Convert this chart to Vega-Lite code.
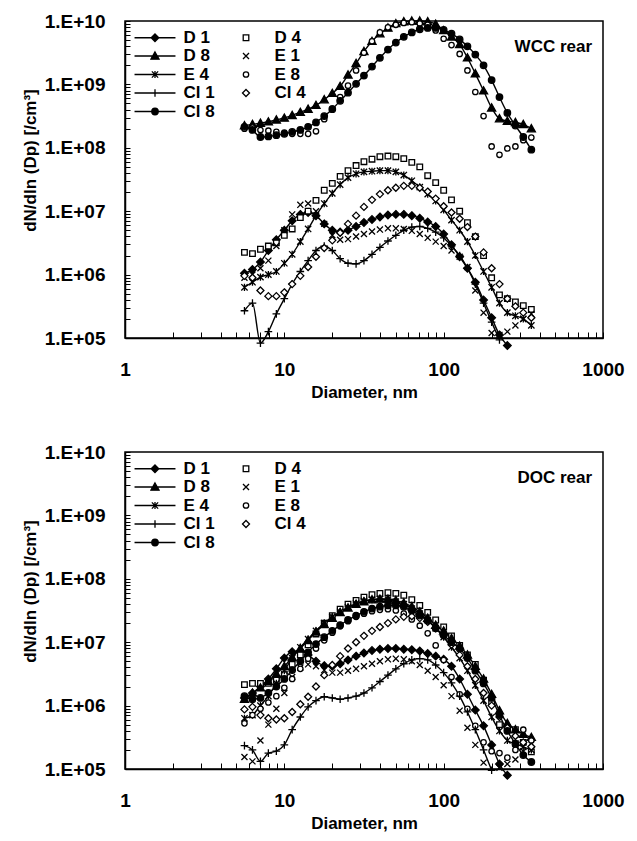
{
"$schema": "https://vega.github.io/schema/vega-lite/v6.json",
"padding": {"left": 20, "top": 11, "right": 5, "bottom": 5},
"background": "white",
"config": {
  "font": "Liberation Sans",
  "view": {"stroke": "black", "strokeWidth": 1.5},
  "concat": {"spacing": 41},
  "axis": {"grid": false, "domainColor": "black", "domainWidth": 1.5, "tickColor": "black", "tickWidth": 1, "labelColor": "black", "titleColor": "black", "labelFont": "Liberation Sans", "titleFont": "Liberation Sans", "labelFontWeight": "bold", "titleFontWeight": "bold", "labelFontSize": 19, "titleFontSize": 17, "labelOverlap": false, "labelBound": false, "labelFlush": false},
  "legend": {"orient": "none", "legendX": 21.5, "legendY": 8, "columns": 2, "title": null, "padding": 0, "labelFont": "Liberation Sans", "labelFontSize": 17, "labelFontWeight": "bold", "labelColor": "black", "labelOffset": 20, "columnPadding": 22, "rowPadding": 0.5, "symbolSize": 81, "symbolStrokeWidth": 1.3, "symbolOpacity": 1}
},
"resolve": {"legend": {"shape": "independent", "fill": "independent", "stroke": "independent"}, "scale": {"shape": "independent", "fill": "independent", "stroke": "independent"}},
"datasets": {
"wcc": [
{"s":"D 1","d":5.62,"n":1.05e6},{"s":"D 1","d":6.31,"n":1.20e6},{"s":"D 1","d":7.08,"n":1.58e6},{"s":"D 1","d":7.94,"n":2.40e6},{"s":"D 1","d":8.91,"n":3.55e6},{"s":"D 1","d":10,"n":5.01e6},{"s":"D 1","d":11.2,"n":7.08e6},{"s":"D 1","d":12.6,"n":8.91e6},{"s":"D 1","d":14.1,"n":9.55e6},{"s":"D 1","d":15.8,"n":8.51e6},{"s":"D 1","d":17.8,"n":6.31e6},{"s":"D 1","d":20,"n":5.01e6},{"s":"D 1","d":22.4,"n":4.68e6},{"s":"D 1","d":25.1,"n":5.01e6},{"s":"D 1","d":28.2,"n":5.75e6},{"s":"D 1","d":31.6,"n":6.61e6},{"s":"D 1","d":35.5,"n":7.41e6},{"s":"D 1","d":39.8,"n":8.13e6},{"s":"D 1","d":44.7,"n":8.71e6},{"s":"D 1","d":50.1,"n":8.91e6},{"s":"D 1","d":56.2,"n":8.91e6},{"s":"D 1","d":63.1,"n":8.51e6},{"s":"D 1","d":70.8,"n":7.76e6},{"s":"D 1","d":79.4,"n":6.76e6},{"s":"D 1","d":89.1,"n":5.75e6},{"s":"D 1","d":100,"n":4.37e6},{"s":"D 1","d":112,"n":2.95e6},{"s":"D 1","d":126,"n":1.91e6},{"s":"D 1","d":141,"n":1.26e6},{"s":"D 1","d":158,"n":7.59e5},{"s":"D 1","d":178,"n":3.98e5},{"s":"D 1","d":200,"n":2.09e5},{"s":"D 1","d":224,"n":1.12e5},{"s":"D 1","d":251,"n":7.59e4},
{"s":"D 4","d":5.62,"n":2.24e6},{"s":"D 4","d":6.31,"n":2.14e6},{"s":"D 4","d":7.08,"n":2.51e6},{"s":"D 4","d":7.94,"n":2.82e6},{"s":"D 4","d":8.91,"n":3.16e6},{"s":"D 4","d":10,"n":4.17e6},{"s":"D 4","d":11.2,"n":5.25e6},{"s":"D 4","d":12.6,"n":7.94e6},{"s":"D 4","d":14.1,"n":1.00e7},{"s":"D 4","d":15.8,"n":1.48e7},{"s":"D 4","d":17.8,"n":2.14e7},{"s":"D 4","d":20,"n":2.75e7},{"s":"D 4","d":22.4,"n":3.55e7},{"s":"D 4","d":25.1,"n":4.37e7},{"s":"D 4","d":28.2,"n":5.25e7},{"s":"D 4","d":31.6,"n":6.03e7},{"s":"D 4","d":35.5,"n":6.61e7},{"s":"D 4","d":39.8,"n":7.24e7},{"s":"D 4","d":44.7,"n":7.41e7},{"s":"D 4","d":50.1,"n":7.24e7},{"s":"D 4","d":56.2,"n":6.76e7},{"s":"D 4","d":63.1,"n":5.89e7},{"s":"D 4","d":70.8,"n":5.01e7},{"s":"D 4","d":79.4,"n":3.63e7},{"s":"D 4","d":89.1,"n":2.82e7},{"s":"D 4","d":100,"n":2.14e7},{"s":"D 4","d":112,"n":1.51e7},{"s":"D 4","d":126,"n":1.00e7},{"s":"D 4","d":141,"n":6.61e6},{"s":"D 4","d":158,"n":3.98e6},{"s":"D 4","d":178,"n":2.00e6},{"s":"D 4","d":200,"n":8.91e5},{"s":"D 4","d":224,"n":4.79e5},{"s":"D 4","d":251,"n":4.17e5},{"s":"D 4","d":282,"n":3.72e5},{"s":"D 4","d":316,"n":3.24e5},{"s":"D 4","d":355,"n":2.82e5},
{"s":"D 8","d":5.62,"n":2.24e8},{"s":"D 8","d":6.31,"n":2.34e8},{"s":"D 8","d":7.08,"n":2.45e8},{"s":"D 8","d":7.94,"n":2.57e8},{"s":"D 8","d":8.91,"n":2.75e8},{"s":"D 8","d":10,"n":2.95e8},{"s":"D 8","d":11.2,"n":3.24e8},{"s":"D 8","d":12.6,"n":3.63e8},{"s":"D 8","d":14.1,"n":4.07e8},{"s":"D 8","d":15.8,"n":4.68e8},{"s":"D 8","d":17.8,"n":5.75e8},{"s":"D 8","d":20,"n":7.24e8},{"s":"D 8","d":22.4,"n":9.33e8},{"s":"D 8","d":25.1,"n":1.41e9},{"s":"D 8","d":28.2,"n":2.14e9},{"s":"D 8","d":31.6,"n":3.31e9},{"s":"D 8","d":35.5,"n":4.79e9},{"s":"D 8","d":39.8,"n":6.31e9},{"s":"D 8","d":44.7,"n":7.76e9},{"s":"D 8","d":50.1,"n":9.12e9},{"s":"D 8","d":56.2,"n":9.77e9},{"s":"D 8","d":63.1,"n":1.00e10},{"s":"D 8","d":70.8,"n":1.00e10},{"s":"D 8","d":79.4,"n":9.77e9},{"s":"D 8","d":89.1,"n":8.91e9},{"s":"D 8","d":100,"n":7.08e9},{"s":"D 8","d":112,"n":5.62e9},{"s":"D 8","d":126,"n":4.27e9},{"s":"D 8","d":141,"n":2.63e9},{"s":"D 8","d":158,"n":1.48e9},{"s":"D 8","d":178,"n":7.94e8},{"s":"D 8","d":200,"n":4.27e8},{"s":"D 8","d":224,"n":2.88e8},{"s":"D 8","d":251,"n":2.63e8},{"s":"D 8","d":282,"n":2.51e8},{"s":"D 8","d":316,"n":2.34e8},{"s":"D 8","d":355,"n":2.00e8},
{"s":"E 1","d":5.62,"n":8.91e5},{"s":"E 1","d":6.31,"n":1.00e6},{"s":"E 1","d":7.08,"n":1.26e6},{"s":"E 1","d":7.94,"n":1.66e6},{"s":"E 1","d":8.91,"n":2.82e6},{"s":"E 1","d":10,"n":5.01e6},{"s":"E 1","d":11.2,"n":8.91e6},{"s":"E 1","d":12.6,"n":1.26e7},{"s":"E 1","d":14.1,"n":1.32e7},{"s":"E 1","d":15.8,"n":1.00e7},{"s":"E 1","d":17.8,"n":6.31e6},{"s":"E 1","d":20,"n":4.17e6},{"s":"E 1","d":22.4,"n":3.55e6},{"s":"E 1","d":25.1,"n":3.63e6},{"s":"E 1","d":28.2,"n":3.98e6},{"s":"E 1","d":31.6,"n":4.37e6},{"s":"E 1","d":35.5,"n":4.79e6},{"s":"E 1","d":39.8,"n":5.13e6},{"s":"E 1","d":44.7,"n":5.37e6},{"s":"E 1","d":50.1,"n":5.37e6},{"s":"E 1","d":56.2,"n":5.25e6},{"s":"E 1","d":63.1,"n":4.90e6},{"s":"E 1","d":70.8,"n":4.37e6},{"s":"E 1","d":79.4,"n":3.80e6},{"s":"E 1","d":89.1,"n":3.31e6},{"s":"E 1","d":100,"n":2.82e6},{"s":"E 1","d":112,"n":2.40e6},{"s":"E 1","d":126,"n":1.91e6},{"s":"E 1","d":141,"n":1.32e6},{"s":"E 1","d":158,"n":5.62e5},{"s":"E 1","d":178,"n":2.51e5},{"s":"E 1","d":200,"n":1.20e5},{"s":"E 1","d":224,"n":1.12e5},{"s":"E 1","d":251,"n":1.26e5},{"s":"E 1","d":282,"n":1.58e5},{"s":"E 1","d":316,"n":2.00e5},{"s":"E 1","d":355,"n":2.40e5},
{"s":"E 4","d":5.62,"n":6.31e5},{"s":"E 4","d":6.31,"n":7.59e5},{"s":"E 4","d":7.08,"n":9.12e5},{"s":"E 4","d":7.94,"n":1.00e6},{"s":"E 4","d":8.91,"n":1.12e6},{"s":"E 4","d":10,"n":1.51e6},{"s":"E 4","d":11.2,"n":2.09e6},{"s":"E 4","d":12.6,"n":3.31e6},{"s":"E 4","d":14.1,"n":5.25e6},{"s":"E 4","d":15.8,"n":8.51e6},{"s":"E 4","d":17.8,"n":1.32e7},{"s":"E 4","d":20,"n":1.91e7},{"s":"E 4","d":22.4,"n":2.63e7},{"s":"E 4","d":25.1,"n":3.39e7},{"s":"E 4","d":28.2,"n":3.89e7},{"s":"E 4","d":31.6,"n":4.17e7},{"s":"E 4","d":35.5,"n":4.27e7},{"s":"E 4","d":39.8,"n":4.37e7},{"s":"E 4","d":44.7,"n":4.37e7},{"s":"E 4","d":50.1,"n":4.17e7},{"s":"E 4","d":56.2,"n":3.72e7},{"s":"E 4","d":63.1,"n":3.02e7},{"s":"E 4","d":70.8,"n":2.40e7},{"s":"E 4","d":79.4,"n":1.86e7},{"s":"E 4","d":89.1,"n":1.45e7},{"s":"E 4","d":100,"n":1.05e7},{"s":"E 4","d":112,"n":7.24e6},{"s":"E 4","d":126,"n":5.01e6},{"s":"E 4","d":141,"n":3.31e6},{"s":"E 4","d":158,"n":2.00e6},{"s":"E 4","d":178,"n":1.12e6},{"s":"E 4","d":200,"n":6.31e5},{"s":"E 4","d":224,"n":3.55e5},{"s":"E 4","d":251,"n":2.51e5},{"s":"E 4","d":282,"n":2.24e5},{"s":"E 4","d":316,"n":2.00e5},{"s":"E 4","d":355,"n":1.58e5},
{"s":"E 8","d":5.62,"n":2.00e8},{"s":"E 8","d":6.31,"n":2.09e8},{"s":"E 8","d":7.08,"n":1.91e8},{"s":"E 8","d":7.94,"n":1.86e8},{"s":"E 8","d":8.91,"n":1.78e8},{"s":"E 8","d":10,"n":1.74e8},{"s":"E 8","d":11.2,"n":1.66e8},{"s":"E 8","d":12.6,"n":1.66e8},{"s":"E 8","d":14.1,"n":1.66e8},{"s":"E 8","d":15.8,"n":1.82e8},{"s":"E 8","d":17.8,"n":2.82e8},{"s":"E 8","d":20,"n":4.17e8},{"s":"E 8","d":22.4,"n":6.31e8},{"s":"E 8","d":25.1,"n":9.55e8},{"s":"E 8","d":28.2,"n":1.66e9},{"s":"E 8","d":31.6,"n":3.16e9},{"s":"E 8","d":35.5,"n":4.79e9},{"s":"E 8","d":39.8,"n":6.61e9},{"s":"E 8","d":44.7,"n":7.94e9},{"s":"E 8","d":50.1,"n":8.71e9},{"s":"E 8","d":56.2,"n":9.33e9},{"s":"E 8","d":63.1,"n":9.55e9},{"s":"E 8","d":70.8,"n":9.12e9},{"s":"E 8","d":79.4,"n":8.71e9},{"s":"E 8","d":89.1,"n":7.08e9},{"s":"E 8","d":100,"n":5.25e9},{"s":"E 8","d":112,"n":4.17e9},{"s":"E 8","d":126,"n":3.02e9},{"s":"E 8","d":141,"n":1.66e9},{"s":"E 8","d":158,"n":7.59e8},{"s":"E 8","d":178,"n":3.16e8},{"s":"E 8","d":200,"n":1.05e8},{"s":"E 8","d":224,"n":7.76e7},{"s":"E 8","d":251,"n":9.77e7},{"s":"E 8","d":282,"n":1.05e8},{"s":"E 8","d":316,"n":1.32e8},{"s":"E 8","d":355,"n":1.45e8},
{"s":"Cl 1","d":5.62,"n":2.69e5},{"s":"Cl 1","d":6.31,"n":3.55e5},{"s":"Cl 1","d":7.08,"n":8.32e4},{"s":"Cl 1","d":7.94,"n":1.26e5},{"s":"Cl 1","d":8.91,"n":2.40e5},{"s":"Cl 1","d":10,"n":4.17e5},{"s":"Cl 1","d":11.2,"n":7.08e5},{"s":"Cl 1","d":12.6,"n":1.12e6},{"s":"Cl 1","d":14.1,"n":1.66e6},{"s":"Cl 1","d":15.8,"n":2.40e6},{"s":"Cl 1","d":17.8,"n":2.82e6},{"s":"Cl 1","d":20,"n":2.40e6},{"s":"Cl 1","d":22.4,"n":1.78e6},{"s":"Cl 1","d":25.1,"n":1.51e6},{"s":"Cl 1","d":28.2,"n":1.48e6},{"s":"Cl 1","d":31.6,"n":1.66e6},{"s":"Cl 1","d":35.5,"n":2.09e6},{"s":"Cl 1","d":39.8,"n":2.69e6},{"s":"Cl 1","d":44.7,"n":3.39e6},{"s":"Cl 1","d":50.1,"n":4.17e6},{"s":"Cl 1","d":56.2,"n":5.01e6},{"s":"Cl 1","d":63.1,"n":5.62e6},{"s":"Cl 1","d":70.8,"n":5.75e6},{"s":"Cl 1","d":79.4,"n":5.37e6},{"s":"Cl 1","d":89.1,"n":4.68e6},{"s":"Cl 1","d":100,"n":3.80e6},{"s":"Cl 1","d":112,"n":2.82e6},{"s":"Cl 1","d":126,"n":2.00e6},{"s":"Cl 1","d":141,"n":1.26e6},{"s":"Cl 1","d":158,"n":7.08e5},{"s":"Cl 1","d":178,"n":3.55e5},{"s":"Cl 1","d":200,"n":1.78e5},{"s":"Cl 1","d":224,"n":9.33e4},
{"s":"Cl 4","d":5.62,"n":9.55e5},{"s":"Cl 4","d":6.31,"n":8.91e5},{"s":"Cl 4","d":7.08,"n":5.62e5},{"s":"Cl 4","d":7.94,"n":4.57e5},{"s":"Cl 4","d":8.91,"n":4.57e5},{"s":"Cl 4","d":10,"n":5.25e5},{"s":"Cl 4","d":11.2,"n":7.08e5},{"s":"Cl 4","d":12.6,"n":9.55e5},{"s":"Cl 4","d":14.1,"n":1.32e6},{"s":"Cl 4","d":15.8,"n":1.91e6},{"s":"Cl 4","d":17.8,"n":2.63e6},{"s":"Cl 4","d":20,"n":3.47e6},{"s":"Cl 4","d":22.4,"n":4.57e6},{"s":"Cl 4","d":25.1,"n":6.31e6},{"s":"Cl 4","d":28.2,"n":8.51e6},{"s":"Cl 4","d":31.6,"n":1.17e7},{"s":"Cl 4","d":35.5,"n":1.51e7},{"s":"Cl 4","d":39.8,"n":1.86e7},{"s":"Cl 4","d":44.7,"n":2.14e7},{"s":"Cl 4","d":50.1,"n":2.34e7},{"s":"Cl 4","d":56.2,"n":2.51e7},{"s":"Cl 4","d":63.1,"n":2.51e7},{"s":"Cl 4","d":70.8,"n":2.34e7},{"s":"Cl 4","d":79.4,"n":2.04e7},{"s":"Cl 4","d":89.1,"n":1.58e7},{"s":"Cl 4","d":100,"n":1.20e7},{"s":"Cl 4","d":112,"n":9.55e6},{"s":"Cl 4","d":126,"n":7.59e6},{"s":"Cl 4","d":141,"n":5.62e6},{"s":"Cl 4","d":158,"n":3.98e6},{"s":"Cl 4","d":178,"n":2.24e6},{"s":"Cl 4","d":200,"n":1.26e6},{"s":"Cl 4","d":224,"n":7.08e5},{"s":"Cl 4","d":251,"n":4.17e5},{"s":"Cl 4","d":282,"n":3.16e5},{"s":"Cl 4","d":316,"n":2.51e5},{"s":"Cl 4","d":355,"n":2.09e5},
{"s":"Cl 8","d":5.62,"n":2.14e8},{"s":"Cl 8","d":6.31,"n":1.91e8},{"s":"Cl 8","d":7.08,"n":1.48e8},{"s":"Cl 8","d":7.94,"n":1.51e8},{"s":"Cl 8","d":8.91,"n":1.58e8},{"s":"Cl 8","d":10,"n":1.66e8},{"s":"Cl 8","d":11.2,"n":1.78e8},{"s":"Cl 8","d":12.6,"n":1.91e8},{"s":"Cl 8","d":14.1,"n":2.14e8},{"s":"Cl 8","d":15.8,"n":2.51e8},{"s":"Cl 8","d":17.8,"n":3.16e8},{"s":"Cl 8","d":20,"n":4.07e8},{"s":"Cl 8","d":22.4,"n":5.50e8},{"s":"Cl 8","d":25.1,"n":7.41e8},{"s":"Cl 8","d":28.2,"n":1.02e9},{"s":"Cl 8","d":31.6,"n":1.38e9},{"s":"Cl 8","d":35.5,"n":1.91e9},{"s":"Cl 8","d":39.8,"n":2.63e9},{"s":"Cl 8","d":44.7,"n":3.55e9},{"s":"Cl 8","d":50.1,"n":4.57e9},{"s":"Cl 8","d":56.2,"n":5.62e9},{"s":"Cl 8","d":63.1,"n":6.61e9},{"s":"Cl 8","d":70.8,"n":7.41e9},{"s":"Cl 8","d":79.4,"n":7.76e9},{"s":"Cl 8","d":89.1,"n":7.76e9},{"s":"Cl 8","d":100,"n":7.24e9},{"s":"Cl 8","d":112,"n":6.31e9},{"s":"Cl 8","d":126,"n":5.13e9},{"s":"Cl 8","d":141,"n":3.98e9},{"s":"Cl 8","d":158,"n":2.95e9},{"s":"Cl 8","d":178,"n":2.00e9},{"s":"Cl 8","d":200,"n":1.17e9},{"s":"Cl 8","d":224,"n":6.31e8},{"s":"Cl 8","d":251,"n":3.55e8},{"s":"Cl 8","d":282,"n":2.24e8},{"s":"Cl 8","d":316,"n":1.48e8},{"s":"Cl 8","d":355,"n":9.33e7}
],
"doc": [
{"s":"D 1","d":5.62,"n":1.32e6},{"s":"D 1","d":6.31,"n":1.58e6},{"s":"D 1","d":7.08,"n":2.00e6},{"s":"D 1","d":7.94,"n":2.63e6},{"s":"D 1","d":8.91,"n":3.80e6},{"s":"D 1","d":10,"n":5.62e6},{"s":"D 1","d":11.2,"n":7.08e6},{"s":"D 1","d":12.6,"n":7.24e6},{"s":"D 1","d":14.1,"n":6.31e6},{"s":"D 1","d":15.8,"n":5.01e6},{"s":"D 1","d":17.8,"n":4.27e6},{"s":"D 1","d":20,"n":4.17e6},{"s":"D 1","d":22.4,"n":4.57e6},{"s":"D 1","d":25.1,"n":5.25e6},{"s":"D 1","d":28.2,"n":6.03e6},{"s":"D 1","d":31.6,"n":6.76e6},{"s":"D 1","d":35.5,"n":7.41e6},{"s":"D 1","d":39.8,"n":7.76e6},{"s":"D 1","d":44.7,"n":7.94e6},{"s":"D 1","d":50.1,"n":7.94e6},{"s":"D 1","d":56.2,"n":7.76e6},{"s":"D 1","d":63.1,"n":7.59e6},{"s":"D 1","d":70.8,"n":7.24e6},{"s":"D 1","d":79.4,"n":6.61e6},{"s":"D 1","d":89.1,"n":6.03e6},{"s":"D 1","d":100,"n":5.37e6},{"s":"D 1","d":112,"n":4.17e6},{"s":"D 1","d":126,"n":2.63e6},{"s":"D 1","d":141,"n":1.51e6},{"s":"D 1","d":158,"n":8.51e5},{"s":"D 1","d":178,"n":4.79e5},{"s":"D 1","d":200,"n":2.40e5},{"s":"D 1","d":224,"n":1.20e5},{"s":"D 1","d":251,"n":7.94e4},
{"s":"D 4","d":5.62,"n":2.14e6},{"s":"D 4","d":6.31,"n":2.24e6},{"s":"D 4","d":7.08,"n":2.24e6},{"s":"D 4","d":7.94,"n":2.24e6},{"s":"D 4","d":8.91,"n":2.51e6},{"s":"D 4","d":10,"n":3.16e6},{"s":"D 4","d":11.2,"n":4.47e6},{"s":"D 4","d":12.6,"n":6.31e6},{"s":"D 4","d":14.1,"n":9.12e6},{"s":"D 4","d":15.8,"n":1.35e7},{"s":"D 4","d":17.8,"n":2.00e7},{"s":"D 4","d":20,"n":2.63e7},{"s":"D 4","d":22.4,"n":3.31e7},{"s":"D 4","d":25.1,"n":3.98e7},{"s":"D 4","d":28.2,"n":4.57e7},{"s":"D 4","d":31.6,"n":5.13e7},{"s":"D 4","d":35.5,"n":5.62e7},{"s":"D 4","d":39.8,"n":5.89e7},{"s":"D 4","d":44.7,"n":6.03e7},{"s":"D 4","d":50.1,"n":5.89e7},{"s":"D 4","d":56.2,"n":5.50e7},{"s":"D 4","d":63.1,"n":4.68e7},{"s":"D 4","d":70.8,"n":3.80e7},{"s":"D 4","d":79.4,"n":2.95e7},{"s":"D 4","d":89.1,"n":2.24e7},{"s":"D 4","d":100,"n":1.74e7},{"s":"D 4","d":112,"n":1.26e7},{"s":"D 4","d":126,"n":8.91e6},{"s":"D 4","d":141,"n":6.31e6},{"s":"D 4","d":158,"n":4.47e6},{"s":"D 4","d":178,"n":2.51e6},{"s":"D 4","d":200,"n":1.12e6},{"s":"D 4","d":224,"n":5.01e5},{"s":"D 4","d":251,"n":4.47e5},{"s":"D 4","d":282,"n":4.17e5},{"s":"D 4","d":316,"n":2.63e5},{"s":"D 4","d":355,"n":1.86e5},
{"s":"D 8","d":5.62,"n":1.26e6},{"s":"D 8","d":6.31,"n":1.58e6},{"s":"D 8","d":7.08,"n":1.91e6},{"s":"D 8","d":7.94,"n":2.40e6},{"s":"D 8","d":8.91,"n":3.16e6},{"s":"D 8","d":10,"n":4.17e6},{"s":"D 8","d":11.2,"n":5.75e6},{"s":"D 8","d":12.6,"n":7.94e6},{"s":"D 8","d":14.1,"n":1.07e7},{"s":"D 8","d":15.8,"n":1.45e7},{"s":"D 8","d":17.8,"n":1.91e7},{"s":"D 8","d":20,"n":2.40e7},{"s":"D 8","d":22.4,"n":2.95e7},{"s":"D 8","d":25.1,"n":3.47e7},{"s":"D 8","d":28.2,"n":3.98e7},{"s":"D 8","d":31.6,"n":4.37e7},{"s":"D 8","d":35.5,"n":4.68e7},{"s":"D 8","d":39.8,"n":4.79e7},{"s":"D 8","d":44.7,"n":4.79e7},{"s":"D 8","d":50.1,"n":4.57e7},{"s":"D 8","d":56.2,"n":4.17e7},{"s":"D 8","d":63.1,"n":3.63e7},{"s":"D 8","d":70.8,"n":3.02e7},{"s":"D 8","d":79.4,"n":2.40e7},{"s":"D 8","d":89.1,"n":1.86e7},{"s":"D 8","d":100,"n":1.51e7},{"s":"D 8","d":112,"n":1.15e7},{"s":"D 8","d":126,"n":8.71e6},{"s":"D 8","d":141,"n":6.31e6},{"s":"D 8","d":158,"n":4.17e6},{"s":"D 8","d":178,"n":2.63e6},{"s":"D 8","d":200,"n":1.51e6},{"s":"D 8","d":224,"n":8.32e5},{"s":"D 8","d":251,"n":5.25e5},{"s":"D 8","d":282,"n":4.17e5},{"s":"D 8","d":316,"n":3.55e5},{"s":"D 8","d":355,"n":3.16e5},
{"s":"E 1","d":5.62,"n":1.55e5},{"s":"E 1","d":6.31,"n":1.32e5},{"s":"E 1","d":7.08,"n":2.82e5},{"s":"E 1","d":7.94,"n":5.01e5},{"s":"E 1","d":8.91,"n":8.91e5},{"s":"E 1","d":10,"n":1.58e6},{"s":"E 1","d":11.2,"n":2.82e6},{"s":"E 1","d":12.6,"n":3.98e6},{"s":"E 1","d":14.1,"n":4.47e6},{"s":"E 1","d":15.8,"n":4.17e6},{"s":"E 1","d":17.8,"n":3.63e6},{"s":"E 1","d":20,"n":3.31e6},{"s":"E 1","d":22.4,"n":3.31e6},{"s":"E 1","d":25.1,"n":3.55e6},{"s":"E 1","d":28.2,"n":3.80e6},{"s":"E 1","d":31.6,"n":4.17e6},{"s":"E 1","d":35.5,"n":4.57e6},{"s":"E 1","d":39.8,"n":5.01e6},{"s":"E 1","d":44.7,"n":5.37e6},{"s":"E 1","d":50.1,"n":5.50e6},{"s":"E 1","d":56.2,"n":5.37e6},{"s":"E 1","d":63.1,"n":5.01e6},{"s":"E 1","d":70.8,"n":4.37e6},{"s":"E 1","d":79.4,"n":3.55e6},{"s":"E 1","d":89.1,"n":2.82e6},{"s":"E 1","d":100,"n":2.09e6},{"s":"E 1","d":112,"n":1.41e6},{"s":"E 1","d":126,"n":8.32e5},{"s":"E 1","d":141,"n":4.47e5},{"s":"E 1","d":158,"n":2.40e5},{"s":"E 1","d":178,"n":1.26e5},{"s":"E 1","d":224,"n":1.05e5},{"s":"E 1","d":251,"n":1.20e5},{"s":"E 1","d":282,"n":1.41e5},{"s":"E 1","d":316,"n":1.91e5},{"s":"E 1","d":355,"n":2.51e5},
{"s":"E 4","d":5.62,"n":6.31e5},{"s":"E 4","d":6.31,"n":7.08e5},{"s":"E 4","d":7.08,"n":1.00e6},{"s":"E 4","d":7.94,"n":1.41e6},{"s":"E 4","d":8.91,"n":2.24e6},{"s":"E 4","d":10,"n":3.55e6},{"s":"E 4","d":11.2,"n":5.62e6},{"s":"E 4","d":12.6,"n":8.32e6},{"s":"E 4","d":14.1,"n":1.12e7},{"s":"E 4","d":15.8,"n":1.51e7},{"s":"E 4","d":17.8,"n":2.00e7},{"s":"E 4","d":20,"n":2.51e7},{"s":"E 4","d":22.4,"n":3.02e7},{"s":"E 4","d":25.1,"n":3.55e7},{"s":"E 4","d":28.2,"n":4.07e7},{"s":"E 4","d":31.6,"n":4.47e7},{"s":"E 4","d":35.5,"n":4.68e7},{"s":"E 4","d":39.8,"n":4.79e7},{"s":"E 4","d":44.7,"n":4.68e7},{"s":"E 4","d":50.1,"n":4.37e7},{"s":"E 4","d":56.2,"n":3.98e7},{"s":"E 4","d":63.1,"n":3.39e7},{"s":"E 4","d":70.8,"n":2.82e7},{"s":"E 4","d":79.4,"n":2.24e7},{"s":"E 4","d":89.1,"n":1.66e7},{"s":"E 4","d":100,"n":1.20e7},{"s":"E 4","d":112,"n":8.32e6},{"s":"E 4","d":126,"n":5.62e6},{"s":"E 4","d":141,"n":3.55e6},{"s":"E 4","d":158,"n":2.09e6},{"s":"E 4","d":178,"n":1.20e6},{"s":"E 4","d":200,"n":6.61e5},{"s":"E 4","d":224,"n":3.98e5},{"s":"E 4","d":251,"n":2.82e5},{"s":"E 4","d":282,"n":2.51e5},{"s":"E 4","d":316,"n":2.24e5},{"s":"E 4","d":355,"n":2.00e5},
{"s":"E 8","d":5.62,"n":5.25e5},{"s":"E 8","d":6.31,"n":7.08e5},{"s":"E 8","d":7.08,"n":8.91e5},{"s":"E 8","d":7.94,"n":1.12e6},{"s":"E 8","d":8.91,"n":1.41e6},{"s":"E 8","d":10,"n":1.91e6},{"s":"E 8","d":11.2,"n":2.63e6},{"s":"E 8","d":12.6,"n":3.80e6},{"s":"E 8","d":14.1,"n":5.50e6},{"s":"E 8","d":15.8,"n":7.94e6},{"s":"E 8","d":17.8,"n":1.07e7},{"s":"E 8","d":20,"n":1.41e7},{"s":"E 8","d":22.4,"n":1.78e7},{"s":"E 8","d":25.1,"n":2.14e7},{"s":"E 8","d":28.2,"n":2.51e7},{"s":"E 8","d":31.6,"n":2.82e7},{"s":"E 8","d":35.5,"n":3.09e7},{"s":"E 8","d":39.8,"n":3.24e7},{"s":"E 8","d":44.7,"n":3.31e7},{"s":"E 8","d":50.1,"n":3.16e7},{"s":"E 8","d":56.2,"n":2.82e7},{"s":"E 8","d":63.1,"n":2.29e7},{"s":"E 8","d":70.8,"n":1.82e7},{"s":"E 8","d":79.4,"n":1.38e7},{"s":"E 8","d":89.1,"n":8.91e6},{"s":"E 8","d":100,"n":5.25e6},{"s":"E 8","d":112,"n":2.82e6},{"s":"E 8","d":126,"n":1.51e6},{"s":"E 8","d":141,"n":8.91e5},{"s":"E 8","d":158,"n":4.79e5},{"s":"E 8","d":178,"n":2.63e5},{"s":"E 8","d":200,"n":1.91e5},{"s":"E 8","d":224,"n":1.78e5},{"s":"E 8","d":251,"n":1.51e5},{"s":"E 8","d":282,"n":2.00e5},{"s":"E 8","d":316,"n":4.17e5},{"s":"E 8","d":355,"n":2.82e5},
{"s":"Cl 1","d":5.62,"n":2.34e5},{"s":"Cl 1","d":6.31,"n":2.00e5},{"s":"Cl 1","d":7.08,"n":1.32e5},{"s":"Cl 1","d":7.94,"n":1.78e5},{"s":"Cl 1","d":8.91,"n":1.91e5},{"s":"Cl 1","d":10,"n":2.40e5},{"s":"Cl 1","d":11.2,"n":4.17e5},{"s":"Cl 1","d":12.6,"n":6.61e5},{"s":"Cl 1","d":14.1,"n":9.55e5},{"s":"Cl 1","d":15.8,"n":1.20e6},{"s":"Cl 1","d":17.8,"n":1.38e6},{"s":"Cl 1","d":20,"n":1.32e6},{"s":"Cl 1","d":22.4,"n":1.26e6},{"s":"Cl 1","d":25.1,"n":1.32e6},{"s":"Cl 1","d":28.2,"n":1.41e6},{"s":"Cl 1","d":31.6,"n":1.58e6},{"s":"Cl 1","d":35.5,"n":1.91e6},{"s":"Cl 1","d":39.8,"n":2.40e6},{"s":"Cl 1","d":44.7,"n":3.02e6},{"s":"Cl 1","d":50.1,"n":3.80e6},{"s":"Cl 1","d":56.2,"n":4.57e6},{"s":"Cl 1","d":63.1,"n":5.25e6},{"s":"Cl 1","d":70.8,"n":5.50e6},{"s":"Cl 1","d":79.4,"n":5.25e6},{"s":"Cl 1","d":89.1,"n":4.37e6},{"s":"Cl 1","d":100,"n":3.31e6},{"s":"Cl 1","d":112,"n":2.29e6},{"s":"Cl 1","d":126,"n":1.41e6},{"s":"Cl 1","d":141,"n":7.94e5},{"s":"Cl 1","d":158,"n":4.17e5},{"s":"Cl 1","d":178,"n":2.00e5},{"s":"Cl 1","d":200,"n":9.55e4},
{"s":"Cl 4","d":5.62,"n":8.71e5},{"s":"Cl 4","d":6.31,"n":9.55e5},{"s":"Cl 4","d":7.08,"n":7.08e5},{"s":"Cl 4","d":7.94,"n":6.31e5},{"s":"Cl 4","d":8.91,"n":6.03e5},{"s":"Cl 4","d":10,"n":6.31e5},{"s":"Cl 4","d":11.2,"n":7.94e5},{"s":"Cl 4","d":12.6,"n":1.05e6},{"s":"Cl 4","d":14.1,"n":1.38e6},{"s":"Cl 4","d":15.8,"n":2.00e6},{"s":"Cl 4","d":17.8,"n":3.02e6},{"s":"Cl 4","d":20,"n":4.37e6},{"s":"Cl 4","d":22.4,"n":6.03e6},{"s":"Cl 4","d":25.1,"n":7.94e6},{"s":"Cl 4","d":28.2,"n":1.00e7},{"s":"Cl 4","d":31.6,"n":1.26e7},{"s":"Cl 4","d":35.5,"n":1.51e7},{"s":"Cl 4","d":39.8,"n":1.74e7},{"s":"Cl 4","d":44.7,"n":2.00e7},{"s":"Cl 4","d":50.1,"n":2.29e7},{"s":"Cl 4","d":56.2,"n":2.51e7},{"s":"Cl 4","d":63.1,"n":2.57e7},{"s":"Cl 4","d":70.8,"n":2.40e7},{"s":"Cl 4","d":79.4,"n":2.09e7},{"s":"Cl 4","d":89.1,"n":1.66e7},{"s":"Cl 4","d":100,"n":1.26e7},{"s":"Cl 4","d":112,"n":9.12e6},{"s":"Cl 4","d":126,"n":6.31e6},{"s":"Cl 4","d":141,"n":4.17e6},{"s":"Cl 4","d":158,"n":2.63e6},{"s":"Cl 4","d":178,"n":1.58e6},{"s":"Cl 4","d":200,"n":1.00e6},{"s":"Cl 4","d":224,"n":6.61e5},{"s":"Cl 4","d":251,"n":4.47e5},{"s":"Cl 4","d":282,"n":3.31e5},{"s":"Cl 4","d":316,"n":2.63e5},{"s":"Cl 4","d":355,"n":2.24e5},
{"s":"Cl 8","d":5.62,"n":1.41e6},{"s":"Cl 8","d":6.31,"n":1.26e6},{"s":"Cl 8","d":7.08,"n":1.32e6},{"s":"Cl 8","d":7.94,"n":1.58e6},{"s":"Cl 8","d":8.91,"n":2.00e6},{"s":"Cl 8","d":10,"n":2.63e6},{"s":"Cl 8","d":11.2,"n":3.63e6},{"s":"Cl 8","d":12.6,"n":5.01e6},{"s":"Cl 8","d":14.1,"n":6.92e6},{"s":"Cl 8","d":15.8,"n":9.33e6},{"s":"Cl 8","d":17.8,"n":1.20e7},{"s":"Cl 8","d":20,"n":1.51e7},{"s":"Cl 8","d":22.4,"n":1.86e7},{"s":"Cl 8","d":25.1,"n":2.24e7},{"s":"Cl 8","d":28.2,"n":2.63e7},{"s":"Cl 8","d":31.6,"n":3.02e7},{"s":"Cl 8","d":35.5,"n":3.39e7},{"s":"Cl 8","d":39.8,"n":3.63e7},{"s":"Cl 8","d":44.7,"n":3.80e7},{"s":"Cl 8","d":50.1,"n":3.80e7},{"s":"Cl 8","d":56.2,"n":3.63e7},{"s":"Cl 8","d":63.1,"n":3.16e7},{"s":"Cl 8","d":70.8,"n":2.63e7},{"s":"Cl 8","d":79.4,"n":2.19e7},{"s":"Cl 8","d":89.1,"n":1.66e7},{"s":"Cl 8","d":100,"n":1.29e7},{"s":"Cl 8","d":112,"n":1.00e7},{"s":"Cl 8","d":126,"n":7.94e6},{"s":"Cl 8","d":141,"n":5.62e6},{"s":"Cl 8","d":158,"n":3.55e6},{"s":"Cl 8","d":178,"n":2.24e6},{"s":"Cl 8","d":200,"n":1.32e6},{"s":"Cl 8","d":224,"n":7.08e5},{"s":"Cl 8","d":251,"n":3.98e5},{"s":"Cl 8","d":282,"n":2.51e5},{"s":"Cl 8","d":316,"n":1.66e5},{"s":"Cl 8","d":355,"n":1.29e5}
]
},
"vconcat": [
{
  "width": 478, "height": 317,
  "data": {"name": "wcc"},
  "resolve": {"scale": {"shape": "independent", "fill": "independent", "stroke": "independent"}, "legend": {"shape": "independent", "fill": "independent", "stroke": "independent"}},
  "layer": [
    {
      "transform": [{"filter": {"field": "s", "oneOf": ["D 1", "D 8", "E 4", "Cl 1", "Cl 8"]}}],
      "mark": {"type": "line", "interpolate": "monotone", "color": "black", "strokeWidth": 1.4},
      "encoding": {
        "x": {"field": "d", "type": "quantitative", "scale": {"type": "log", "domain": [1, 1000], "nice": false}, "axis": {"title": "Diameter, nm", "values": [1,2,3,4,5,6,7,8,9,10,20,30,40,50,60,70,80,90,100,200,300,400,500,600,700,800,900,1000], "format": "d", "labelExpr": "datum.value == 1 || datum.value == 10 || datum.value == 100 || datum.value == 1000 ? datum.label : ''", "tickSize": -6, "labelPadding": 28, "titlePadding": 5}},
        "y": {"field": "n", "type": "quantitative", "scale": {"type": "log", "domain": [100000, 10000000000], "nice": false}, "axis": {"title": "dN/dln (Dp) [/cm³]", "titleY": 139, "values": [1e5,2e5,3e5,4e5,5e5,6e5,7e5,8e5,9e5,1e6,2e6,3e6,4e6,5e6,6e6,7e6,8e6,9e6,1e7,2e7,3e7,4e7,5e7,6e7,7e7,8e7,9e7,1e8,2e8,3e8,4e8,5e8,6e8,7e8,8e8,9e8,1e9,2e9,3e9,4e9,5e9,6e9,7e9,8e9,9e9,1e10], "labelExpr": "datum.value == 100000 ? '1.E+05' : datum.value == 1000000 ? '1.E+06' : datum.value == 10000000 ? '1.E+07' : datum.value == 100000000 ? '1.E+08' : datum.value == 1000000000 ? '1.E+09' : datum.value == 10000000000 ? '1.E+10' : ''", "tickSize": -5, "labelPadding": 25, "titlePadding": 5}},
        "detail": {"field": "s"}
      }
    },
    {
      "mark": {"type": "point", "filled": true, "stroke": "black", "strokeWidth": 1.3, "size": 81, "opacity": 1},
      "encoding": {
        "x": {"field": "d", "type": "quantitative"},
        "y": {"field": "n", "type": "quantitative"},
        "fill": {"field": "s", "type": "nominal", "scale": {"domain": ["D 1","D 4","D 8","E 1","E 4","E 8","Cl 1","Cl 4","Cl 8"], "range": ["black","white","black","white","white","white","white","white","black"]}, "legend": null},
        "shape": {"field": "s", "type": "nominal", "legend": null,
          "scale": {"domain": ["D 1","D 4","D 8","E 1","E 4","E 8","Cl 1","Cl 4","Cl 8"], "range": ["M0,-0.85L0.85,0L0,0.85L-0.85,0Z","M-0.62,-0.62H0.62V0.62H-0.62Z","M0,-0.9L0.9,0.7H-0.9Z","M-0.67,-0.67L0.67,0.67M-0.67,0.67L0.67,-0.67","M0,-0.8V0.8M-0.7,-0.7L0.7,0.7M-0.7,0.7L0.7,-0.7","M0.6,0A0.6,0.6,0,1,1,-0.6,0A0.6,0.6,0,1,1,0.6,0Z","M-0.85,0H0.85M0,-0.85V0.85","M0,-0.78L0.78,0L0,0.78L-0.78,0Z","M0.72,0A0.72,0.72,0,1,1,-0.72,0A0.72,0.72,0,1,1,0.72,0Z"]}
        }
      }
    },
    {
      "transform": [{"filter": "datum.d < 0"}],
      "mark": {"type": "point", "filled": true, "strokeWidth": 1.3, "size": 81, "opacity": 1},
      "encoding": {
        "shape": {"field": "s", "type": "nominal",
          "scale": {"domain": ["D 1","D 8","E 4","Cl 1","Cl 8","D 4","E 1","E 8","Cl 4"], "range": ["M-4.55,0H4.55M0,-0.85L0.85,0L0,0.85L-0.85,0Z","M-4.55,0H4.55M0,-0.9L0.9,0.7H-0.9Z","M-4.55,0H4.55M0,-0.8V0.8M-0.7,-0.7L0.7,0.7M-0.7,0.7L0.7,-0.7","M-4.55,0H4.55M0,-0.85V0.85","M-4.55,0H4.55M0.72,0A0.72,0.72,0,1,1,-0.72,0A0.72,0.72,0,1,1,0.72,0Z","M-0.62,-0.62H0.62V0.62H-0.62Z","M-0.67,-0.67L0.67,0.67M-0.67,0.67L0.67,-0.67","M0.6,0A0.6,0.6,0,1,1,-0.6,0A0.6,0.6,0,1,1,0.6,0Z","M0,-0.78L0.78,0L0,0.78L-0.78,0Z"]}},
        "fill": {"field": "s", "type": "nominal",
          "scale": {"domain": ["D 1","D 8","E 4","Cl 1","Cl 8","D 4","E 1","E 8","Cl 4"], "range": ["black","black","white","white","black","white","white","white","white"]}},
        "stroke": {"field": "s", "type": "nominal",
          "scale": {"domain": ["D 1","D 8","E 4","Cl 1","Cl 8","D 4","E 1","E 8","Cl 4"], "range": ["black","black","black","black","black","black","black","black","black"]}}
      }
    },
    {
      "data": {"values": [{"t": "WCC rear"}]},
      "mark": {"type": "text", "align": "right", "baseline": "middle", "font": "Liberation Sans", "fontSize": 17, "fontWeight": "bold", "color": "black"},
      "encoding": {"x": {"datum": 854}, "y": {"datum": 3840000000}, "text": {"field": "t"}}
    }
  ]
},
{
  "width": 478, "height": 317,
  "data": {"name": "doc"},
  "resolve": {"scale": {"shape": "independent", "fill": "independent", "stroke": "independent"}, "legend": {"shape": "independent", "fill": "independent", "stroke": "independent"}},
  "layer": [
    {
      "transform": [{"filter": {"field": "s", "oneOf": ["D 1", "D 8", "E 4", "Cl 1", "Cl 8"]}}],
      "mark": {"type": "line", "interpolate": "monotone", "color": "black", "strokeWidth": 1.4},
      "encoding": {
        "x": {"field": "d", "type": "quantitative", "scale": {"type": "log", "domain": [1, 1000], "nice": false}, "axis": {"title": "Diameter, nm", "values": [1,2,3,4,5,6,7,8,9,10,20,30,40,50,60,70,80,90,100,200,300,400,500,600,700,800,900,1000], "format": "d", "labelExpr": "datum.value == 1 || datum.value == 10 || datum.value == 100 || datum.value == 1000 ? datum.label : ''", "tickSize": -6, "labelPadding": 28, "titlePadding": 5}},
        "y": {"field": "n", "type": "quantitative", "scale": {"type": "log", "domain": [100000, 10000000000], "nice": false}, "axis": {"title": "dN/dln (Dp) [/cm³]", "titleY": 139, "values": [1e5,2e5,3e5,4e5,5e5,6e5,7e5,8e5,9e5,1e6,2e6,3e6,4e6,5e6,6e6,7e6,8e6,9e6,1e7,2e7,3e7,4e7,5e7,6e7,7e7,8e7,9e7,1e8,2e8,3e8,4e8,5e8,6e8,7e8,8e8,9e8,1e9,2e9,3e9,4e9,5e9,6e9,7e9,8e9,9e9,1e10], "labelExpr": "datum.value == 100000 ? '1.E+05' : datum.value == 1000000 ? '1.E+06' : datum.value == 10000000 ? '1.E+07' : datum.value == 100000000 ? '1.E+08' : datum.value == 1000000000 ? '1.E+09' : datum.value == 10000000000 ? '1.E+10' : ''", "tickSize": -5, "labelPadding": 25, "titlePadding": 5}},
        "detail": {"field": "s"}
      }
    },
    {
      "mark": {"type": "point", "filled": true, "stroke": "black", "strokeWidth": 1.3, "size": 81, "opacity": 1},
      "encoding": {
        "x": {"field": "d", "type": "quantitative"},
        "y": {"field": "n", "type": "quantitative"},
        "fill": {"field": "s", "type": "nominal", "scale": {"domain": ["D 1","D 4","D 8","E 1","E 4","E 8","Cl 1","Cl 4","Cl 8"], "range": ["black","white","black","white","white","white","white","white","black"]}, "legend": null},
        "shape": {"field": "s", "type": "nominal", "legend": null,
          "scale": {"domain": ["D 1","D 4","D 8","E 1","E 4","E 8","Cl 1","Cl 4","Cl 8"], "range": ["M0,-0.85L0.85,0L0,0.85L-0.85,0Z","M-0.62,-0.62H0.62V0.62H-0.62Z","M0,-0.9L0.9,0.7H-0.9Z","M-0.67,-0.67L0.67,0.67M-0.67,0.67L0.67,-0.67","M0,-0.8V0.8M-0.7,-0.7L0.7,0.7M-0.7,0.7L0.7,-0.7","M0.6,0A0.6,0.6,0,1,1,-0.6,0A0.6,0.6,0,1,1,0.6,0Z","M-0.85,0H0.85M0,-0.85V0.85","M0,-0.78L0.78,0L0,0.78L-0.78,0Z","M0.72,0A0.72,0.72,0,1,1,-0.72,0A0.72,0.72,0,1,1,0.72,0Z"]}
        }
      }
    },
    {
      "transform": [{"filter": "datum.d < 0"}],
      "mark": {"type": "point", "filled": true, "strokeWidth": 1.3, "size": 81, "opacity": 1},
      "encoding": {
        "shape": {"field": "s", "type": "nominal",
          "scale": {"domain": ["D 1","D 8","E 4","Cl 1","Cl 8","D 4","E 1","E 8","Cl 4"], "range": ["M-4.55,0H4.55M0,-0.85L0.85,0L0,0.85L-0.85,0Z","M-4.55,0H4.55M0,-0.9L0.9,0.7H-0.9Z","M-4.55,0H4.55M0,-0.8V0.8M-0.7,-0.7L0.7,0.7M-0.7,0.7L0.7,-0.7","M-4.55,0H4.55M0,-0.85V0.85","M-4.55,0H4.55M0.72,0A0.72,0.72,0,1,1,-0.72,0A0.72,0.72,0,1,1,0.72,0Z","M-0.62,-0.62H0.62V0.62H-0.62Z","M-0.67,-0.67L0.67,0.67M-0.67,0.67L0.67,-0.67","M0.6,0A0.6,0.6,0,1,1,-0.6,0A0.6,0.6,0,1,1,0.6,0Z","M0,-0.78L0.78,0L0,0.78L-0.78,0Z"]}},
        "fill": {"field": "s", "type": "nominal",
          "scale": {"domain": ["D 1","D 8","E 4","Cl 1","Cl 8","D 4","E 1","E 8","Cl 4"], "range": ["black","black","white","white","black","white","white","white","white"]}},
        "stroke": {"field": "s", "type": "nominal",
          "scale": {"domain": ["D 1","D 8","E 4","Cl 1","Cl 8","D 4","E 1","E 8","Cl 4"], "range": ["black","black","black","black","black","black","black","black","black"]}}
      }
    },
    {
      "data": {"values": [{"t": "DOC rear"}]},
      "mark": {"type": "text", "align": "right", "baseline": "middle", "font": "Liberation Sans", "fontSize": 17, "fontWeight": "bold", "color": "black"},
      "encoding": {"x": {"datum": 854}, "y": {"datum": 3840000000}, "text": {"field": "t"}}
    }
  ]
}
]
}
